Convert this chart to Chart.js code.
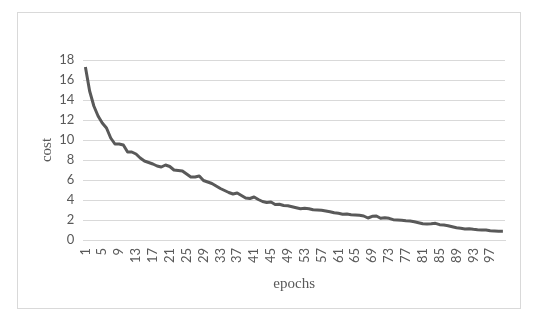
<!DOCTYPE html>
<html>
<head>
<meta charset="utf-8">
<script src="https://cdn.jsdelivr.net/npm/chart.js@4/dist/chart.umd.min.js"></script>
<style>
  html, body { margin: 0; padding: 0; background: #ffffff; }
  #wrap { position: relative; width: 547px; height: 323px; }
  #frame { position: absolute; left: 17px; top: 12px; width: 502px; height: 295px; border: 1px solid #d9d9d9; pointer-events: none; }
  canvas { position: absolute; left: 0; top: 0; }
</style>
</head>
<body>
<div id="wrap">
  <canvas id="c" width="547" height="323"></canvas>
  <div id="frame"></div>
</div>
<script>
const epochs = Array.from({length: 100}, (_, i) => String(i + 1));
const cost = [
  17.3, 14.9, 13.4, 12.4, 11.7, 11.2, 10.2, 9.6, 9.6, 9.5,
  8.8, 8.8, 8.6, 8.2, 7.9, 7.75, 7.6, 7.4, 7.3, 7.5,
  7.35, 7.0, 6.95, 6.9, 6.6, 6.3, 6.3, 6.4, 5.95, 5.8,
  5.65, 5.4, 5.15, 4.95, 4.75, 4.6, 4.7, 4.45, 4.2, 4.15,
  4.3, 4.05, 3.85, 3.75, 3.8, 3.55, 3.57, 3.45, 3.42, 3.33,
  3.23, 3.13, 3.17, 3.13, 3.03, 3.0, 2.97, 2.9, 2.83, 2.73,
  2.67, 2.57, 2.6, 2.53, 2.5, 2.47, 2.4, 2.2, 2.37, 2.4,
  2.17, 2.23, 2.17, 2.03, 2.0, 1.97, 1.93, 1.9, 1.83, 1.73,
  1.63, 1.6, 1.63, 1.67, 1.53, 1.5, 1.43, 1.33, 1.23, 1.17,
  1.1, 1.13, 1.07, 1.03, 1.0, 1.0, 0.93, 0.9, 0.87, 0.87
];
const yTicks = [0, 2, 4, 6, 8, 10, 12, 14, 16, 18];
const xTitle = 'epochs';
const yTitle = 'cost';

const grey = '#595959';
new Chart(document.getElementById('c'), {
  type: 'line',
  data: {
    labels: epochs,
    datasets: [{
      data: cost,
      borderColor: grey,
      borderWidth: 3,
      pointRadius: 0,
      tension: 0,
      borderJoinStyle: 'round',
      fill: false
    }]
  },
  options: {
    responsive: false,
    animation: false,
    devicePixelRatio: 1,
    layout: { padding: { left: 38, right: 42, top: 60, bottom: 30 } },
    plugins: { legend: { display: false }, tooltip: { enabled: false } },
    scales: {
      x: {
        type: 'category',
        offset: true,
        grid: { display: false, drawTicks: false },
        border: { display: true, color: '#d9d9d9', width: 1 },
        ticks: {
          autoSkip: false,
          minRotation: 90,
          maxRotation: 90,
          padding: 8,
          color: grey,
          font: { family: 'Lato', size: 13 },
          callback: function(v, i) { return i % 4 === 0 ? epochs[i] : ''; }
        },
        title: { display: true, text: xTitle, color: grey, padding: 0,
                 font: { family: 'Liberation Serif', size: 15, lineHeight: 1.2 } },
        afterFit: function(s) { s.height = 323 - 30 - 240; }
      },
      y: {
        min: 0, max: 18,
        afterBuildTicks: function(s) { s.ticks = yTicks.map(v => ({ value: v })); },
        grid: { color: '#d9d9d9', lineWidth: 1, drawTicks: false },
        border: { display: false },
        ticks: { padding: 9, color: grey, font: { family: 'Lato', size: 13 } },
        title: { display: true, text: yTitle, color: grey, padding: 0,
                 font: { family: 'Liberation Serif', size: 15, lineHeight: 1.2 } },
        afterFit: function(s) { s.width = 83.3 - 38; }
      }
    }
  }
});
</script>
</body>
</html>
